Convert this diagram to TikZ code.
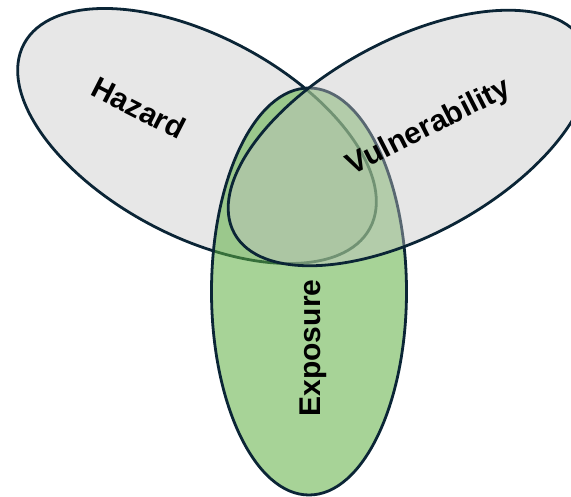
\documentclass[tikz,border=0pt]{standalone}
\usepackage{fontspec}
\setmainfont{Liberation Sans}

\definecolor{outline}{HTML}{0B2536}
\definecolor{hazgrey}{HTML}{E7E7E7}
\definecolor{expgreen}{HTML}{5CAE3F}
\definecolor{vulgrey}{HTML}{C4C4C4}

\begin{document}
\begin{tikzpicture}[
    x=1pt, y=1pt,
    venn/.style={draw=outline, line width=2.8pt},
    lbl/.style={font=\bfseries\fontsize{30}{36}\selectfont, inner sep=0pt}
]
    \useasboundingbox (0,0) rectangle (571,496);
    \clip (0,0) rectangle (571,496);

    % Hazard (bottom layer, solid)
    \draw[venn, fill=hazgrey, rotate around={-28:(197,360)}]
        (197,360) ellipse [x radius=196, y radius=100];

    % Exposure (see-through green)
    \draw[venn, fill=expgreen, fill opacity=0.54]
        (309,204.5) ellipse [x radius=97.5, y radius=203.5];

    % Vulnerability (on top, see-through grey)
    \draw[venn, fill=vulgrey, fill opacity=0.42, rotate around={28.6:(409,358)}]
        (409,358) ellipse [x radius=199, y radius=97];

    % Labels
    \node[lbl, rotate=-27] (hazard) at (139,388) {Hazard};
    \node[lbl, rotate=27] (vulnerability) at (429,368) {Vulnerability};
    \node[lbl, rotate=90, anchor=base] (exposure) at (320,148) {Exposure};

\end{tikzpicture}
\end{document}
